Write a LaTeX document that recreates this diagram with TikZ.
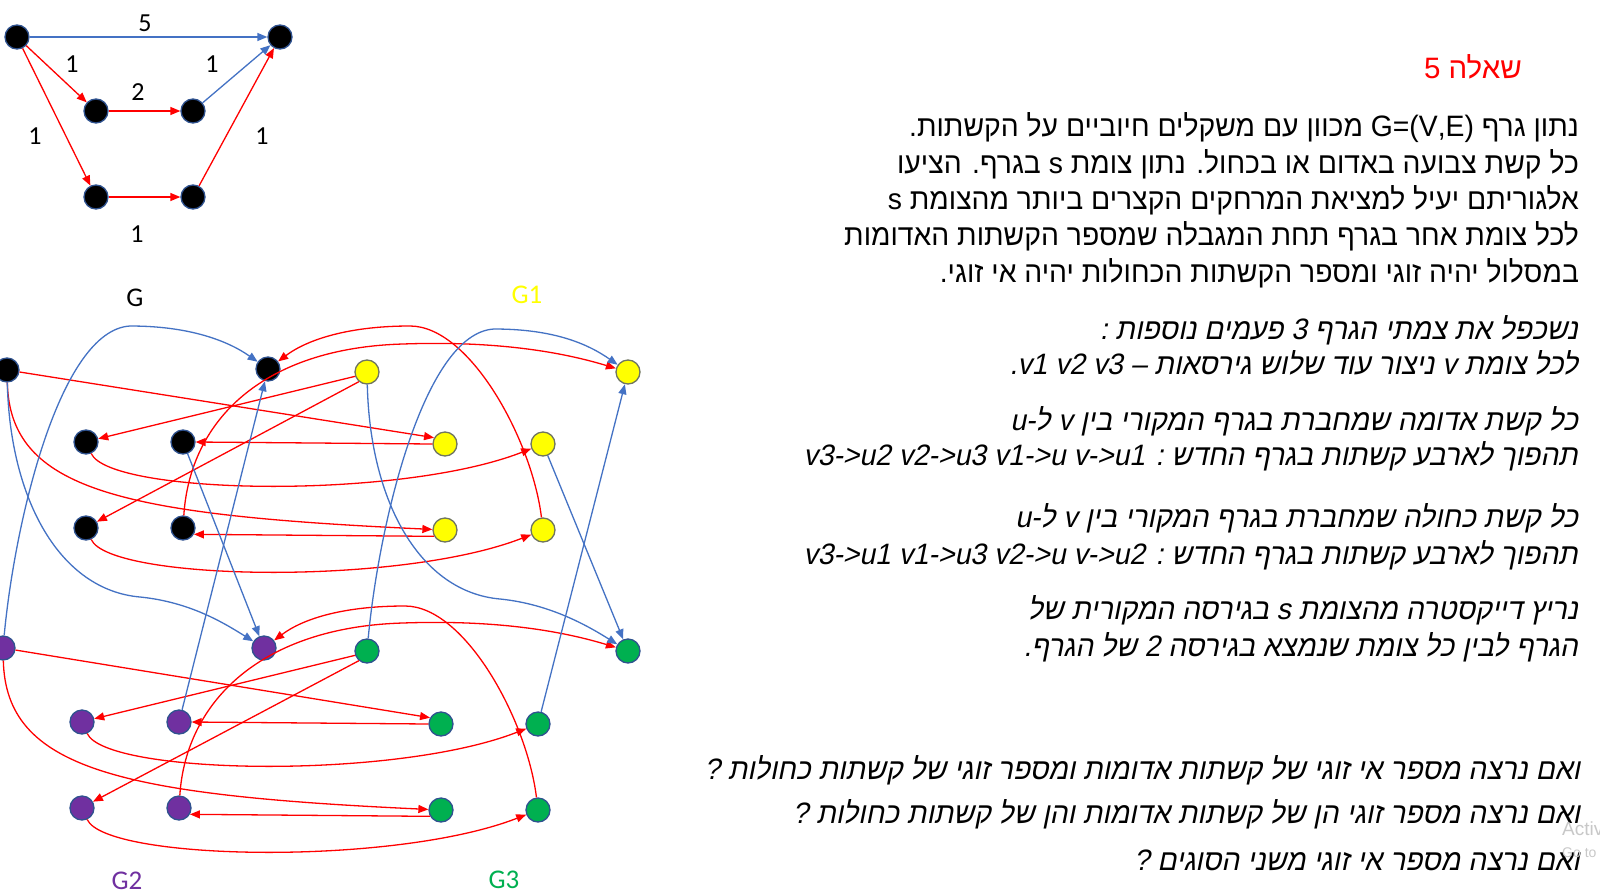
\documentclass[tikz,border=0pt]{standalone}
\usepackage{fontspec}
\setmainfont{Carlito}
\newfontfamily\heb[Script=Hebrew]{Liberation Sans}
\newfontfamily\hebn[Script=Hebrew,FakeStretch=0.96]{Liberation Sans}
\newfontfamily\hebit[Script=Hebrew,FakeSlant=0.2,FakeStretch=0.96]{Liberation Sans}
\TeXXeTstate=1
\usetikzlibrary{arrows.meta,calc}
\definecolor{nodeblue}{HTML}{2F528F}
\definecolor{yellowedge}{HTML}{6F7560}
\definecolor{nodeyellow}{HTML}{FFFF00}
\definecolor{nodepurple}{HTML}{7030A0}
\definecolor{nodegreen}{HTML}{00B050}
\definecolor{edgered}{HTML}{FF0000}
\definecolor{edgeblue}{HTML}{4472C4}
\definecolor{wmgray}{HTML}{C8C8C8}
\tikzset{
  vtx/.style={circle,minimum size=24pt,inner sep=0pt,line width=1.3pt},
  bn/.style={vtx,fill=black,draw=nodeblue},
  yn/.style={vtx,fill=nodeyellow,draw=yellowedge},
  pn/.style={vtx,fill=nodepurple,draw=nodeblue},
  gn/.style={vtx,fill=nodegreen,draw=nodeblue},
  redarr/.style={draw=edgered,line width=1.3pt,-{Triangle[length=10pt,width=8pt]}},
  bluarr/.style={draw=edgeblue,line width=1.3pt,-{Triangle[length=10pt,width=8pt]}},
  numlbl/.style={font=\fontsize{26}{26}\selectfont,inner sep=0pt},
  glbl/.style={font=\fontsize{27}{27}\selectfont,inner sep=0pt},
  hebline/.style={anchor=base east,inner sep=0pt,font=\hebn\fontsize{29.5}{34}\selectfont},
  hebitline/.style={anchor=base east,inner sep=0pt,font=\hebit\fontsize{29.5}{34}\selectfont},
}
% red edges between a left copy (#1) and a right copy (#2)
\newcommand\redset[2]{%
  \draw[redarr] (#11) -- (#23.150);
  \draw[redarr] (#21.200) -- (#13.15);
  \draw[redarr] (#21.230) -- (#15.30);
  \draw[redarr] (#13) .. controls +(24,53) and +(-143,56) .. (#24);
  \draw[redarr] (#23.180) -- (#14.0);
  \draw[redarr] (#11) .. controls +(3,120) and +(-325,-15) .. (#25);
  \draw[redarr] (#15) .. controls +(24,53) and +(-143,56) .. (#26);
  \draw[redarr] (#25.210) -- (#16.330);
  \draw[redarr] (#16) .. controls +(7,-108) and +(-140,4) .. ($(#22)+(-225,-28)$)
                      .. controls +(110,-4) and +(-50,-15) .. (#22);
  \draw[redarr] (#26) .. controls +(-11,-90) and +(60,0) .. ($(#26)+(-133,-204)$)
                      .. controls +(-60,0) and +(40,-30) .. (#12);
}
\begin{document}
\begin{tikzpicture}[x=1pt,y=-1pt]
\useasboundingbox (0,0) rectangle (1600,894);
\fill[white] (0,0) rectangle (1600,894);

% ---------- small graph ----------
\node[bn] (sS) at (17,37) {};
\node[bn] (sT) at (280,37) {};
\node[bn] (sA) at (96,111) {};
\node[bn] (sB) at (193,111) {};
\node[bn] (sC) at (96,197) {};
\node[bn] (sD) at (193,197) {};
\draw[bluarr] (sS) -- (sT);
\draw[redarr] (sS) -- (sA);
\draw[redarr] (sA) -- (sB);
\draw[bluarr] (sB) -- (sT);
\draw[redarr] (sS) -- (sC);
\draw[redarr] (sC) -- (sD);
\draw[redarr] (sD) -- (sT);
\node[numlbl] (w1) at (145,23) {5};
\node[numlbl] (w2) at (72,64) {1};
\node[numlbl] (w3) at (138,92) {2};
\node[numlbl] (w4) at (212,64) {1};
\node[numlbl] (w5) at (35,136) {1};
\node[numlbl] (w6) at (262,136) {1};
\node[numlbl] (w7) at (137,234) {1};

% ---------- big graph: nodes ----------
\node[bn] (B1) at (7,370) {};
\node[bn] (B2) at (268,369) {};
\node[bn] (B3) at (86,442) {};
\node[bn] (B4) at (183,442) {};
\node[bn] (B5) at (86,528) {};
\node[bn] (B6) at (183,528) {};
\node[yn] (Y1) at (367,372) {};
\node[yn] (Y2) at (628,372) {};
\node[yn] (Y3) at (445,444) {};
\node[yn] (Y4) at (543,444) {};
\node[yn] (Y5) at (445,530) {};
\node[yn] (Y6) at (543,530) {};
\node[pn] (P1) at (3,648) {};
\node[pn] (P2) at (264,648) {};
\node[pn] (P3) at (82,722) {};
\node[pn] (P4) at (179,722) {};
\node[pn] (P5) at (82,808) {};
\node[pn] (P6) at (179,808) {};
\node[gn] (Q1) at (367,651) {};
\node[gn] (Q2) at (628,651) {};
\node[gn] (Q3) at (441,724) {};
\node[gn] (Q4) at (538,724) {};
\node[gn] (Q5) at (441,810) {};
\node[gn] (Q6) at (538,810) {};

\node[glbl] (lG) at (135,298) {G};
\node[glbl,text=nodeyellow] (lG1) at (527,295) {G1};
\node[glbl,text=nodepurple] (lG2) at (127,881) {G2};
\node[glbl,text=nodegreen] (lG3) at (504,880) {G3};

% ---------- red edges ----------
\redset{B}{Y}
\redset{P}{Q}

% ---------- blue edges ----------
\draw[bluarr] (B1) .. controls +(3,130) and +(-80,-7) .. ($(B1)+(133,227)$)
              .. controls +(50,5) and +(-40,-25) .. (P2);
\draw[bluarr] (Y1) .. controls +(3,130) and +(-80,-7) .. ($(Y1)+(133,227)$)
              .. controls +(50,5) and +(-40,-25) .. (Q2);
\draw[bluarr] (P1) .. controls +(12,-128) and +(-70,4) .. ($(P1)+(127,-322)$)
              .. controls +(60,0) and +(-40,-28) .. (B2);
\draw[bluarr] (Q1) .. controls +(12,-128) and +(-70,4) .. ($(Q1)+(127,-322)$)
              .. controls +(60,0) and +(-40,-28) .. (Y2);
\draw[bluarr] (B4) -- (P2);
\draw[bluarr] (P4) -- (B2);
\draw[bluarr] (Y4) -- (Q2);
\draw[bluarr] (Q4) -- (Y2);

% ---------- text ----------
\node[anchor=base east,inner sep=0pt,text=edgered,font=\heb\fontsize{29.5}{32}\selectfont] (title) at (1522,78) {\beginR שאלה 5\endR};

\node[hebline] (t1) at (1579,136.5) {\beginR נתון גרף \beginL G=(V,E)\endL{} מכוון עם משקלים חיוביים על הקשתות.\endR};
\node[hebline] (t2) at (1579,173.5) {\beginR כל קשת צבועה באדום או בכחול. נתון צומת s בגרף. הציעו\endR};
\node[hebline] (t3) at (1579,209) {\beginR אלגוריתם יעיל למציאת המרחקים הקצרים ביותר מהצומת s\endR};
\node[hebline] (t4) at (1579,245.5) {\beginR לכל צומת אחר בגרף תחת המגבלה שמספר הקשתות האדומות\endR};
\node[hebline] (t5) at (1579,282.5) {\beginR במסלול יהיה זוגי ומספר הקשתות הכחולות יהיה אי זוגי.\endR};

\node[hebitline] (t6) at (1578,339) {\beginR נשכפל את צמתי הגרף 3 פעמים נוספות :\endR};
\node[hebitline] (t7) at (1578,374.5) {\beginR לכל צומת v ניצור עוד שלוש גירסאות – \beginL v1 v2 v3\endL.\endR};
\node[hebitline] (t8) at (1578,430) {\beginR כל קשת אדומה שמחברת בגרף המקורי בין v ל-u\endR};
\node[hebitline] (t9) at (1578,465.5) {\beginR תהפוך לארבע קשתות בגרף החדש : \beginL v->u1\endL{} \beginL v1->u\endL{} \beginL v2->u3\endL{} \beginL v3->u2\endL\endR};
\node[hebitline] (t10) at (1578,527) {\beginR כל קשת כחולה שמחברת בגרף המקורי בין v ל-u\endR};
\node[hebitline] (t11) at (1578,564) {\beginR תהפוך לארבע קשתות בגרף החדש : \beginL v->u2\endL{} \beginL v2->u\endL{} \beginL v1->u3\endL{} \beginL v3->u1\endL\endR};
\node[hebitline] (t12) at (1578,619.5) {\beginR נריץ דייקסטרה מהצומת s בגירסה המקורית של\endR};
\node[hebitline] (t13) at (1578,656) {\beginR הגרף לבין כל צומת שנמצא בגירסה 2 של הגרף.\endR};
\node[hebitline] (t14) at (1580,779.5) {\beginR ואם נרצה מספר אי זוגי של קשתות אדומות ומספר זוגי של קשתות כחולות ?\endR};
\node[hebitline] (t15) at (1580,823.5) {\beginR ואם נרצה מספר זוגי הן של קשתות אדומות והן של קשתות כחולות ?\endR};
\node[hebitline] (t16) at (1580,870.5) {\beginR ואם נרצה מספר אי זוגי משני הסוגים ?\endR};

\node[anchor=base west,inner sep=0pt,text=wmgray,font=\heb\fontsize{19}{19}\selectfont] (wm1) at (1562,835) {Activ};
\node[anchor=base west,inner sep=0pt,text=wmgray,font=\heb\fontsize{14}{14}\selectfont] (wm2) at (1562,857) {Go to};
\end{tikzpicture}
\end{document}
